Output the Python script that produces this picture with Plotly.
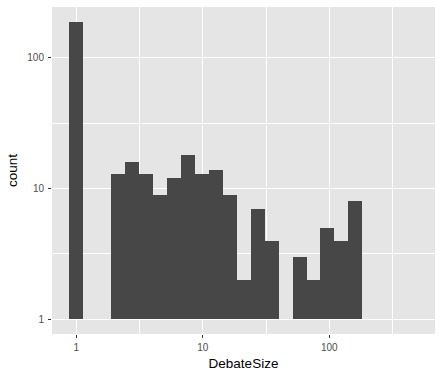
import plotly.graph_objects as go

# bin centres on log10(DebateSize) scale, and counts per bin
bin_center_log10 = [0.0, 0.331, 0.441, 0.552, 0.662, 0.772, 0.882, 0.993, 1.103,
                    1.213, 1.323, 1.434, 1.544, 1.765, 1.875, 1.985, 2.096, 2.206]
counts = [187, 13, 16, 13, 9, 12, 18, 13, 14, 9, 2, 7, 4, 3, 2, 5, 4, 8]
bin_width_log10 = 0.1103

x_tick_vals = [0, 1, 2]
x_tick_text = ["1", "10", "100"]
y_tick_vals = [1, 10, 100]
y_tick_text = ["1", "10", "100"]

fig = go.Figure()
fig.add_trace(go.Bar(
    x=bin_center_log10, y=[c - 1 for c in counts], base=1,
    width=bin_width_log10,
    marker=dict(color="#474747", line=dict(width=0)),
    hoverinfo="skip",
))

fig.update_layout(
    width=443, height=375,
    margin=dict(l=52, r=8, t=7, b=41),
    paper_bgcolor="white", plot_bgcolor="#E5E5E5",
    showlegend=False, bargap=0,
    font=dict(family="Liberation Sans, Arial, sans-serif", color="#4D4D4D", size=10),
)
fig.update_xaxes(
    range=[-0.192, 2.836], tickvals=x_tick_vals, ticktext=x_tick_text,
    showgrid=True, gridcolor="white", gridwidth=1.1, zeroline=False,
    ticks="outside", ticklen=3, tickcolor="#333333", tickwidth=1,
    ticklabelstandoff=1, automargin=False,
    minor=dict(tickvals=[0.5, 1.5, 2.5], showgrid=True, gridcolor="white", gridwidth=0.5, ticks=""),
    title=dict(text="DebateSize", font=dict(size=13.5, color="black"), standoff=6),
    tickfont=dict(size=10, color="#4D4D4D"), showline=False,
)
fig.update_yaxes(
    type="log", range=[-0.1125, 2.39], tickvals=y_tick_vals, ticktext=y_tick_text,
    showgrid=True, gridcolor="white", gridwidth=1.1, zeroline=False,
    ticks="outside", ticklen=3, tickcolor="#333333", tickwidth=1,
    ticklabelstandoff=2, automargin=False,
    minor=dict(tickvals=[3.1623, 31.623], showgrid=True, gridcolor="white", gridwidth=0.5, ticks=""),
    title=dict(text="count", font=dict(size=13.5, color="black"), standoff=6),
    tickfont=dict(size=10, color="#4D4D4D"), showline=False,
)
fig.write_html("out.html")
